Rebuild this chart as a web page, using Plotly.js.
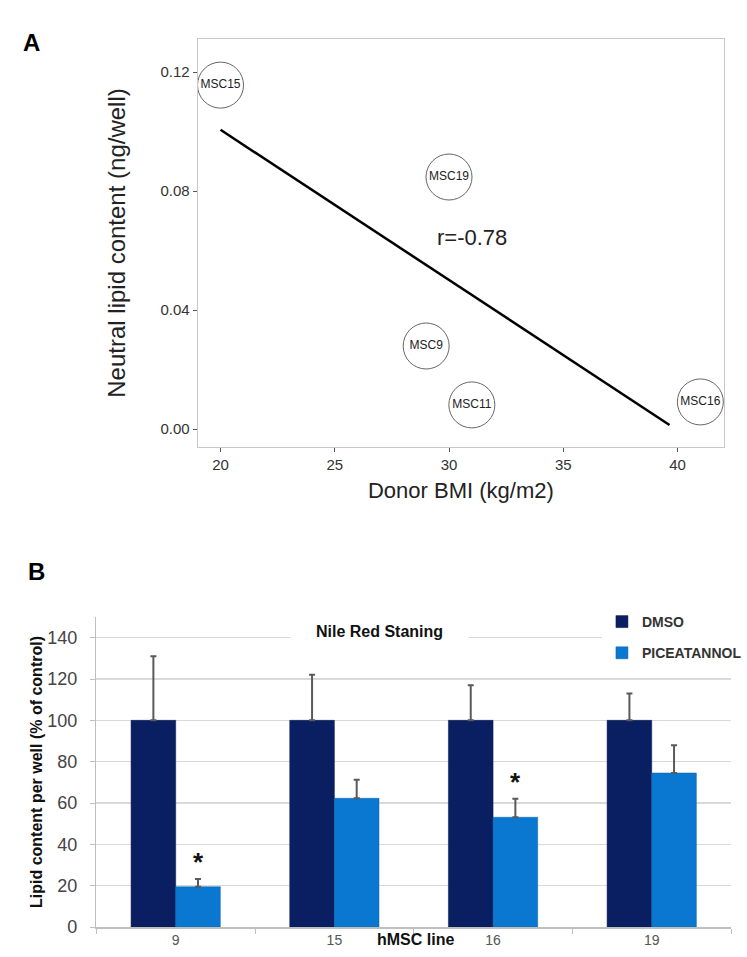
<!DOCTYPE html>
<html>
<head>
<meta charset="utf-8">
<script src="https://cdn.plot.ly/plotly-3.0.1.min.js"></script>
<style>html,body{margin:0;padding:0;background:#fff;}#chart{width:747px;height:957px;}</style>
</head>
<body>
<div id="chart"></div>
<script>
// ---- Panel A data ----
const ptLabels = ['MSC15', 'MSC19', 'MSC9', 'MSC11', 'MSC16'];
const donorBMI = [20, 30, 29, 31, 41];
const neutralLipid = [0.1156, 0.0847, 0.0279, 0.0081, 0.0091];
const fitXRange = [20, 39.65];
const xTicksA = [20, 25, 30, 35, 40];
const yTicksA = [0, 0.04, 0.08, 0.12];

// ---- Panel B data ----
const hmscLines = ['9', '15', '16', '19'];
const dmso = [100, 100, 100, 100];
const dmsoErr = [31, 22, 17, 13];
const picea = [19.5, 62.3, 53.1, 74.5];
const piceaErr = [3.7, 9, 9, 13.5];
const significant = [true, false, true, false];
const yTicksB = [0, 20, 40, 60, 80, 100, 120, 140];

// least squares fit & correlation from data
const n = donorBMI.length;
const mx = donorBMI.reduce((a, b) => a + b, 0) / n;
const my = neutralLipid.reduce((a, b) => a + b, 0) / n;
let sxy = 0, sxx = 0, syy = 0;
for (let i = 0; i < n; i++) {
  sxy += (donorBMI[i] - mx) * (neutralLipid[i] - my);
  sxx += (donorBMI[i] - mx) ** 2;
  syy += (neutralLipid[i] - my) ** 2;
}
const slope = sxy / sxx, icpt = my - slope * mx;
const rVal = sxy / Math.sqrt(sxx * syy);
const fitY = fitXRange.map(x => icpt + slope * x);

const FONT = 'Liberation Sans, Arial, Helvetica, sans-serif';
const bargap = 0.4375;
const barOffset = (1 - bargap) / 4;

const traces = [
  { type: 'scatter', mode: 'lines', x: fitXRange, y: fitY, xaxis: 'x', yaxis: 'y',
    line: { color: '#000', width: 2.5 }, showlegend: false, hoverinfo: 'skip' },
  { type: 'scatter', mode: 'markers+text', x: donorBMI, y: neutralLipid, text: ptLabels,
    xaxis: 'x', yaxis: 'y', textposition: 'middle center', cliponaxis: false,
    textfont: { family: FONT, size: 12, color: '#222' },
    marker: { symbol: 'circle', size: 46, color: 'rgba(255,255,255,0)', line: { color: '#666', width: 1 } },
    showlegend: false },
  { type: 'bar', name: 'DMSO', x: hmscLines, y: dmso, xaxis: 'x2', yaxis: 'y2',
    legendgroup: 'a',
    marker: { color: '#0a1f62', line: { color: '#06154a', width: 0.5 } },
    error_y: { type: 'data', symmetric: false, array: dmsoErr, arrayminus: dmso.map(() => 0),
      color: '#5a5a5a', thickness: 2, width: 3 } },
  { type: 'bar', name: 'PICEATANNOL', x: hmscLines, y: picea, xaxis: 'x2', yaxis: 'y2',
    legendgroup: 'b',
    marker: { color: '#0a78d0', line: { color: '#0862ad', width: 0.5 } },
    error_y: { type: 'data', symmetric: false, array: piceaErr, arrayminus: picea.map(() => 0),
      color: '#5a5a5a', thickness: 2, width: 3 } }
];

const annotations = [
  { xref: 'paper', yref: 'paper', x: 21 / 747, y: 1 - 27 / 957, text: '<b>A</b>', showarrow: false,
    font: { family: FONT, size: 24, color: '#000' } },
  { xref: 'paper', yref: 'paper', x: 26 / 747, y: 1 - 571 / 957, text: '<b>B</b>', showarrow: false,
    font: { family: FONT, size: 24, color: '#000' } },
  { xref: 'x', yref: 'y', x: 31, y: 0.0645, text: 'r=' + rVal.toFixed(2), showarrow: false,
    font: { family: FONT, size: 22, color: '#222' } },
  { xref: 'paper', yref: 'paper', x: 382 / 747, y: 1 - 631 / 957, text: '<b>Nile Red Staning</b>',
    showarrow: false, bgcolor: '#fff', width: 175, height: 22,
    font: { family: FONT, size: 16, color: '#111' } },
  { xref: 'paper', yref: 'paper', x: 418 / 747, y: 1 - 950 / 957, text: '<b>hMSC line</b>',
    showarrow: false, font: { family: FONT, size: 16, color: '#111' } }
];
significant.forEach((s, i) => {
  if (s) annotations.push({ xref: 'x2', yref: 'y2', x: i + barOffset, y: picea[i] + piceaErr[i],
    yanchor: 'bottom', text: '<b>*</b>', showarrow: false,
    font: { family: FONT, size: 26, color: '#111' } });
});

const layout = {
  width: 747, height: 957,
  margin: { l: 0, r: 0, t: 0, b: 0 },
  paper_bgcolor: '#fff', plot_bgcolor: '#fff',
  font: { family: FONT },
  barmode: 'group', bargap: bargap, bargroupgap: 0,
  xaxis: { domain: [199 / 747, 729 / 747], anchor: 'y', range: [19, 42.04],
    tickvals: xTicksA, ticks: 'outside', ticklen: 4, tickcolor: '#555',
    showline: true, mirror: true, linecolor: '#c8c8c8', linewidth: 1,
    showgrid: false, zeroline: false,
    tickfont: { family: FONT, size: 15, color: '#333' },
    title: { text: 'Donor BMI (kg/m2)', standoff: 10, font: { family: FONT, size: 22, color: '#222' } } },
  yaxis: { domain: [1 - 447 / 957, 1 - 39 / 957], anchor: 'x', range: [-0.00605, 0.1311],
    tickvals: yTicksA, tickformat: '.2f', ticks: 'outside', ticklen: 4, tickcolor: '#555',
    showline: true, mirror: true, linecolor: '#c8c8c8', linewidth: 1,
    showgrid: false, zeroline: false,
    tickfont: { family: FONT, size: 15, color: '#333' },
    title: { text: 'Neutral lipid content (ng/well)', standoff: 28, font: { family: FONT, size: 24, color: '#222' } } },
  xaxis2: { domain: [97 / 747, 736 / 747], anchor: 'y2', type: 'category',
    categoryorder: 'array', categoryarray: hmscLines,
    tickson: 'boundaries', ticks: 'outside', ticklen: 5, tickcolor: '#bfbfbf',
    showline: true, linecolor: '#bfbfbf', linewidth: 1.5, showgrid: false,
    tickfont: { family: FONT, size: 14, color: '#555' } },
  yaxis2: { domain: [1 - 927 / 957, 1 - 617 / 957], anchor: 'x2', range: [0, 150],
    tickvals: yTicksB, ticks: 'outside', ticklen: 14, tickcolor: 'rgba(0,0,0,0)',
    minor: { tickvals: yTicksB, ticks: 'outside', ticklen: 5, tickcolor: '#bfbfbf', showgrid: false },
    showline: true, linecolor: '#bfbfbf', linewidth: 1.5,
    showgrid: true, gridcolor: '#d9d9d9', gridwidth: 1.5, zeroline: false,
    tickfont: { family: FONT, size: 18, color: '#444' },
    title: { text: '<b>Lipid content per well (% of control)</b>', standoff: 0,
      font: { family: FONT, size: 16, color: '#111' } } },
  showlegend: true,
  legend: { x: 606 / 747, y: 1 - 606 / 957, xanchor: 'left', yanchor: 'top',
    bgcolor: '#fff', borderwidth: 0, traceorder: 'grouped', tracegroupgap: 10,
    font: { family: FONT, size: 14, color: '#333', weight: 'bold' } },
  annotations: annotations
};

Plotly.newPlot('chart', traces, layout, { displayModeBar: false, staticPlot: true });
</script>
</body>
</html>
